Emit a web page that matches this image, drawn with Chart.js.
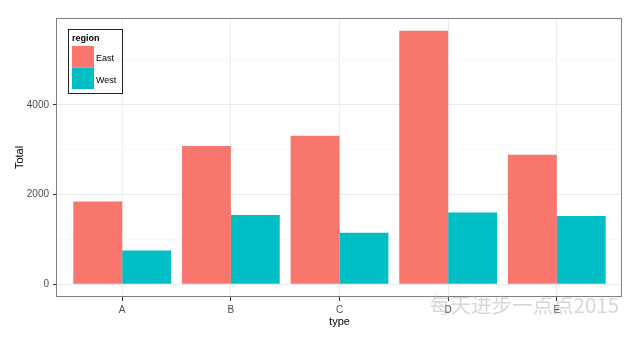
<!DOCTYPE html>
<html>
<head>
<meta charset="utf-8">
<script src="https://cdn.jsdelivr.net/npm/chart.js@4"></script>
<style>
  html, body { margin: 0; padding: 0; background: #fff; }
  #wrap { position: relative; width: 640px; height: 339px; }
  #mark {
    position: absolute; left: 430px; top: 291px;
    font-family: "Noto Sans CJK SC", sans-serif; font-size: 20.5px; line-height: 26px;
    color: rgba(175,175,175,0.5); white-space: nowrap; pointer-events: none;
  }
</style>
</head>
<body>
<div id="wrap">
  <canvas id="myChart" width="640" height="339"></canvas>
  <div id="mark">每天进步一点点2015</div>
</div>
<script>
var categories = ["A", "B", "C", "D", "E"];
var regions = ["East", "West"];
var east = [1844, 3080, 3311, 5651, 2889];
var west = [756, 1547, 1147, 1600, 1524];
var yTicks = [0, 1000, 2000, 3000, 4000, 5000];

function toPoints(vals) {
  return vals.map(function (v, i) { return { x: i + 1, y: v }; });
}

var FONT = '"Liberation Sans", Arial, sans-serif';

// panel border + legend box drawn inside the plot, ggplot style
var panelBits = {
  id: 'panelBits',
  afterDraw: function (chart) {
    var c = chart.ctx, a = chart.chartArea;
    c.save();
    c.strokeStyle = '#7f7f7f';
    c.lineWidth = 1;
    c.strokeRect(Math.round(a.left) - 0.5, Math.round(a.top) + 0.5,
                 Math.round(a.right - a.left), Math.round(a.bottom - a.top) - 1);

    // legend
    var x0 = 68.5, y0 = 29.5;
    c.strokeStyle = '#222';
    c.strokeRect(x0, y0, 54, 64);
    c.fillStyle = '#000';
    c.font = 'bold 9px ' + FONT;
    c.textBaseline = 'middle';
    c.textAlign = 'left';
    c.fillText('region', 72, 38.5);
    chart.data.datasets.forEach(function (ds, i) {
      var ky = 46 + i * 21.5;
      c.fillStyle = ds.backgroundColor;
      c.fillRect(72, ky, 22, 21.5);
      c.fillStyle = '#000';
      c.font = '9px ' + FONT;
      c.fillText(ds.label, 96, ky + 13);
    });
    c.restore();
  }
};

var ctx = document.getElementById("myChart");

var myChart = new Chart(ctx, {
  type: 'bar',
  data: {
    datasets: [{
      label: regions[0],
      data: toPoints(east),
      backgroundColor: '#F8766D'
    }, {
      label: regions[1],
      data: toPoints(west),
      backgroundColor: '#00BFC4'
    }]
  },
  options: {
    responsive: false,
    animation: false,
    devicePixelRatio: 1,
    layout: { padding: { left: 0, top: 18, right: 18, bottom: 0 } },
    datasets: { bar: { categoryPercentage: 0.9, barPercentage: 1.0 } },
    plugins: { legend: { display: false }, tooltip: { enabled: false } },
    scales: {
      x: {
        type: 'linear',
        offset: false,
        min: 0.4,
        max: 5.6,
        afterBuildTicks: function (s) {
          s.ticks = categories.map(function (c, i) { return { value: i + 1 }; });
        },
        afterFit: function (s) { s.height = 42; },
        border: { display: false },
        grid: { offset: false, color: '#EBEBEB', tickColor: '#333', tickLength: 4, lineWidth: 1 },
        ticks: {
          padding: 3,
          color: '#4d4d4d',
          font: { family: FONT, size: 10 },
          callback: function (v) { return categories[v - 1]; }
        },
        title: {
          display: true, text: 'type', color: '#000',
          font: { family: FONT, size: 11 },
          padding: { top: 0, bottom: 10.4 }
        }
      },
      y: {
        min: -282,
        max: 5934,
        afterBuildTicks: function (s) {
          s.ticks = yTicks.map(function (v) { return { value: v }; });
        },
        afterFit: function (s) { s.width = 57; },
        border: { display: false },
        grid: {
          color: function (c) { return c.tick && c.tick.value % 2000 === 0 ? '#EBEBEB' : '#F8F8F8'; },
          tickColor: function (c) { return c.tick && c.tick.value % 2000 === 0 ? '#333' : 'rgba(0,0,0,0)'; },
          tickLength: 4
        },
        ticks: {
          padding: 4,
          color: '#4d4d4d',
          font: { family: FONT, size: 10 },
          callback: function (v) { return v % 2000 === 0 ? String(v) : ''; }
        },
        title: {
          display: true, text: 'Total', color: '#000',
          font: { family: FONT, size: 11 },
          padding: { top: 13.4, bottom: 0 }
        }
      }
    }
  },
  plugins: [panelBits]
});
</script>
</body>
</html>
